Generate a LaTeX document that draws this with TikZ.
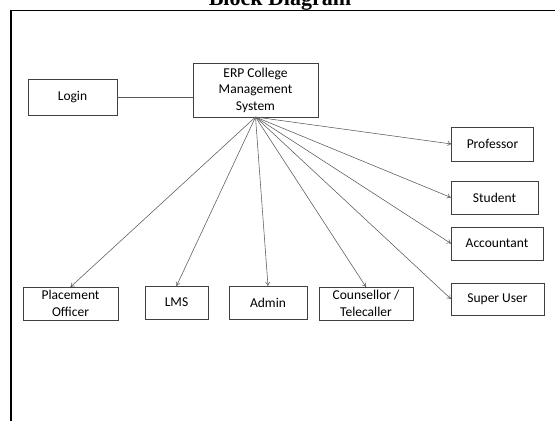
\documentclass[tikz,border=0pt]{standalone}
\usepackage{fontspec}
\setmainfont{Carlito}
\newfontfamily\titlefont{Liberation Serif}
\usetikzlibrary{arrows.meta}

\begin{document}
\begin{tikzpicture}[
            x=1pt, y=-1pt,
            font=\fontsize{13.5}{16.5}\selectfont,
            Block/.style={draw=black!75, line width=0.7pt, align=center, inner sep=0pt, outer sep=0pt},
            Link/.style={draw=black!65, line width=0.55pt},
            Feed/.style={Link, -{To[length=4pt, width=5pt]}},
            ]
            \useasboundingbox (0,0) rectangle (555,421);

            % frame and title
            \draw[line width=1.2pt] (11,421) -- (11,10.5) -- (555,10.5);
            \node[anchor=base, font=\titlefont\bfseries\fontsize{22}{24}\selectfont] (title) at (280,5) {Block Diagram};

            % main system
            \node[Block, minimum width=125pt, minimum height=54pt] (erp) at (255.5,90) {ERP College\\Management\\System};
            \node[Block, minimum width=89pt, minimum height=36pt] (login) at (72.5,97) {Login};

            % right column
            \node[Block, minimum width=82pt, minimum height=34pt] (prof) at (492.5,144) {Professor};
            \node[Block, minimum width=87pt, minimum height=33pt] (student) at (494.5,197.5) {Student};
            \node[Block, minimum width=92pt, minimum height=33pt] (acct) at (497,243.5) {Accountant};
            \node[Block, minimum width=93pt, minimum height=32pt] (super) at (497.5,299) {Super User};

            % bottom row
            \node[Block, minimum width=95pt, minimum height=33pt] (place) at (70.5,303.5) {Placement\\Officer};
            \node[Block, minimum width=63pt, minimum height=33pt] (lms) at (176.5,302.5) {LMS};
            \node[Block, minimum width=78pt, minimum height=33pt] (admin) at (268,302.5) {Admin};
            \node[Block, minimum width=94pt, minimum height=33pt] (couns) at (366,303.5) {Counsellor /\\Telecaller};

            \draw[Link] (login.east) -- (erp.west |- login.east);

            \foreach \target in {prof, student, acct, super}
                \draw[Feed] (erp.south) -- (\target.west);
            \foreach \target in {place, lms, admin, couns}
                \draw[Feed] (erp.south) -- (\target.north);

        \end{tikzpicture}
\end{document}
